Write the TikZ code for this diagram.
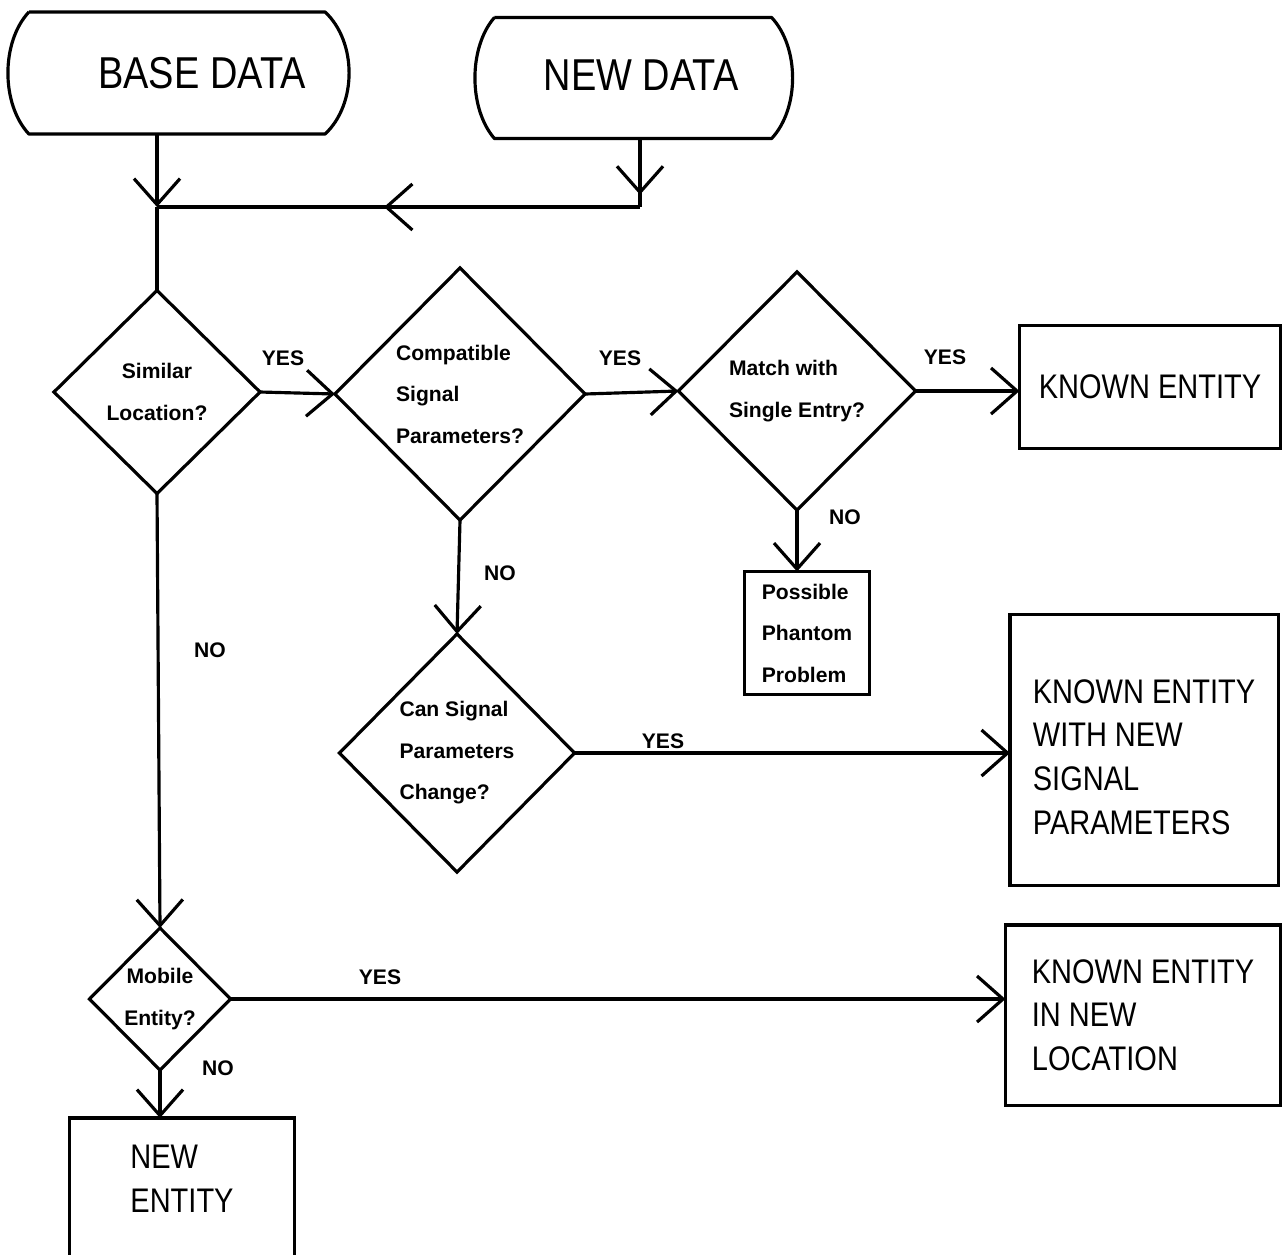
\documentclass[tikz,border=0pt]{standalone}
\usepackage{fontspec}
\setmainfont{Liberation Sans}
\newfontfamily\bigfont{Liberation Sans}[FakeStretch=0.85]
\usetikzlibrary{shapes.geometric,arrows.meta,decorations.markings}
\newcommand{\shiftlines}[2]{\raisebox{#1}[\height][\depth]{\begin{tabular}{@{}l@{}}#2\end{tabular}}}
\begin{document}
\begin{tikzpicture}[x=0.01cm,y=-0.01cm,
  ln/.style={line width=0.9pt},
  barb/.tip={Straight Barb[length=0.26cm,width=0.46cm]},
  flow/.style={ln,-barb},
  midarr/.style={decoration={markings,mark=at position #1 with {\arrow{barb}}},postaction={decorate}},
  term/.style={rectangle,draw=none,outer sep=0pt,inner sep=0pt,font=\bigfont\fontsize{12.7}{15}\selectfont},
  outbox/.style={rectangle,draw,ln,outer sep=0pt,align=left,font=\bigfont\fontsize{9.7}{12.4}\selectfont},
  pbox/.style={rectangle,draw,ln,outer sep=0pt,align=left,font=\bfseries\fontsize{6}{11.8}\selectfont},
  dec/.style={diamond,draw,ln,aspect=1,inner sep=0pt,outer sep=0pt,font=\bfseries\fontsize{6}{11.8}\selectfont},
  lbl/.style={inner sep=0pt,font=\bfseries\fontsize{6}{7}\selectfont}]
\useasboundingbox (0,0) rectangle (1283,1254);

% terminals
\node[term,minimum width=2.96cm,minimum height=1.22cm] (base) at (177,73) {\hspace{0.5cm}BASE DATA};
\node[term,minimum width=2.77cm,minimum height=1.21cm] (new) at (633,78) {\hspace{0.16cm}\raisebox{0.03cm}[\height][\depth]{NEW DATA}};
\draw[ln,line join=round] (base.north west) -- (base.north east)
  .. controls +(32,30) and +(32,-30) .. (base.south east) -- (base.south west)
  .. controls +(-28,-30) and +(-28,30) .. (base.north west);
\draw[ln,line join=round] (new.north west) -- (new.north east)
  .. controls +(28,30) and +(28,-30) .. (new.south east) -- (new.south west)
  .. controls +(-26,-30) and +(-26,30) .. (new.north west);

% decisions
\node[dec,minimum width=2.06cm,minimum height=2.03cm,align=center] (d1) at (157,392) {Similar\\Location?};
\node[dec,minimum width=2.50cm,minimum height=2.52cm,align=left] (d2) at (460,394) {Compatible\\Signal\\Parameters?};
\node[dec,minimum width=2.37cm,minimum height=2.38cm,align=left] (d3) at (797,391) {Match with\\Single Entry?};
\node[dec,minimum width=2.35cm,minimum height=2.38cm,align=left] (d4) at (457,753) {Can Signal\\Parameters\\Change?};
\node[dec,minimum width=1.41cm,minimum height=1.42cm,align=center] (d5) at (160,999) {Mobile\\Entity?};

% outcomes
\node[outbox,minimum width=2.61cm,minimum height=1.23cm] (ke1) at (1150,387) {KNOWN ENTITY};
\node[outbox,minimum width=2.68cm,minimum height=2.71cm] (ke2) at (1144,750) {\shiftlines{-0.1cm}{KNOWN ENTITY\\WITH NEW\\SIGNAL\\PARAMETERS}};
\node[outbox,minimum width=2.75cm,minimum height=1.80cm] (ke3) at (1143,1015) {KNOWN ENTITY\\IN NEW\\LOCATION};
\node[outbox,minimum width=2.25cm,minimum height=1.42cm] (ne) at (182,1189) {\shiftlines{0.07cm}{NEW\\ENTITY}};
\node[pbox,minimum width=1.25cm,minimum height=1.23cm] (ph) at (807,633) {Possible\\Phantom\\Problem};

% connectors
\coordinate (j) at (157,207);
\coordinate (k) at (640,207);
\draw[flow] (base.south -| j) -- (j);
\draw[ln] (j) -- (d1.north);
\draw[ln,midarr=0.82] (new.south -| k) -- (k);
\draw[ln,midarr=0.53] (k) -- (j);
\draw[flow] (d1.east) -- (d2.west);
\draw[flow] (d2.east) -- (d3.west);
\draw[flow] (d3.east) -- (d3.east -| ke1.west);
\draw[flow] (d3.south) -- (d3.south |- ph.north);
\draw[flow] (d2.south) -- (d4.north);
\draw[flow] (d4.east) -- (d4.east -| ke2.west);
\draw[flow] (d1.south) -- (d5.north);
\draw[flow] (d5.east) -- (d5.east -| ke3.west);
\draw[flow] (d5.south) -- (d5.south |- ne.north);

% labels
\node[lbl] (y1) at (283,358) {YES};
\node[lbl] (y2) at (620,358) {YES};
\node[lbl] (y3) at (945,357) {YES};
\node[lbl] (n1) at (845,517) {NO};
\node[lbl] (n2) at (500,573) {NO};
\node[lbl] (n3) at (210,650) {NO};
\node[lbl] (y4) at (663,741) {YES};
\node[lbl] (y5) at (380,977) {YES};
\node[lbl] (n4) at (218,1068) {NO};
\end{tikzpicture}
\end{document}
